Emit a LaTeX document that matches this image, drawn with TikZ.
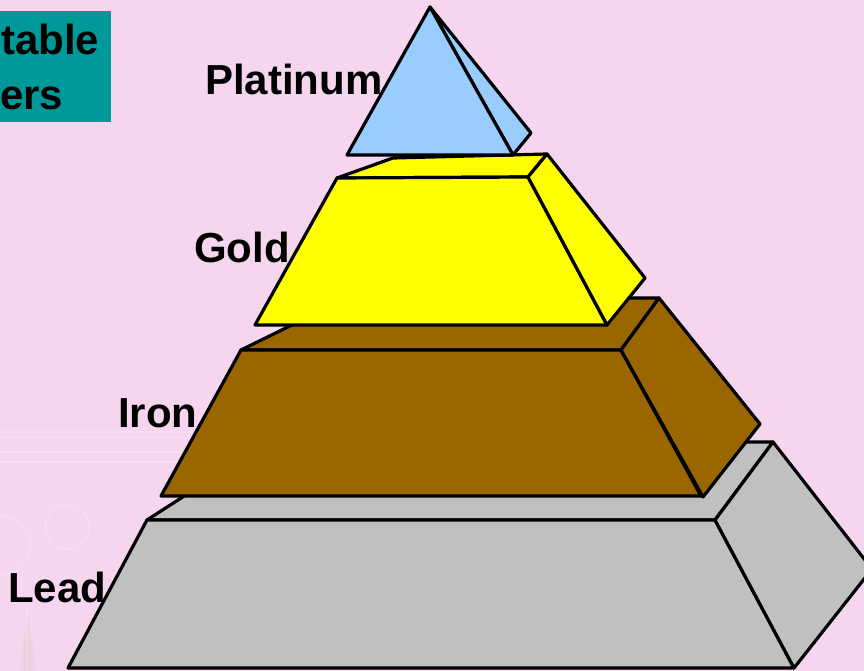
\documentclass[tikz,border=0pt]{standalone}
\usepackage{fontspec}
\setmainfont{Liberation Sans}
\usepackage{xcolor}
\usetikzlibrary{positioning}

\definecolor{bgpink}{HTML}{F6D5EE}
\definecolor{tealbox}{HTML}{009999}
\definecolor{platblue}{HTML}{99CCFF}
\definecolor{goldyel}{HTML}{FFFF00}
\definecolor{ironbrown}{HTML}{996600}
\definecolor{leadgrey}{HTML}{C0C0C0}

\begin{document}
\begin{tikzpicture}[
    x=1pt, y=-1pt,
    face/.style={draw=black, line width=3.2pt, line join=round},
    lbl/.style={font=\fontsize{42}{48}\selectfont\bfseries, inner sep=0pt, anchor=base west},
    deco/.style={draw=white, opacity=0.2, line width=1.6pt}
]

% Background
\fill[bgpink] (0,0) rectangle (864,671);
\useasboundingbox (0,0) rectangle (864,671);
\clip (0,0) rectangle (864,671);

% faint template marks
\draw[deco] (0,432) -- (200,432);
\draw[deco] (0,438) -- (200,438);
\draw[deco] (0,452) -- (200,452);
\draw[deco] (0,462) -- (200,462);
\draw[deco] (67,527) circle (22);
\draw[deco] (0,545) circle (30);
\draw[deco] (27,607) -- (27,671);
\fill[ironbrown!15!bgpink, opacity=0.3] (20,671) -- (24,640) -- (28,615) -- (32,640) -- (36,671) -- cycle;

% Title box
\fill[tealbox] (0,11) rectangle (111,122);
\node[lbl] (title1) at (1,55) {table};
\node[lbl] (title2) at (0,110) {ers};

% Lead
\filldraw[face, fill=leadgrey] (147,520) -- (268,442) -- (773,442) -- (715,520) -- cycle;
\filldraw[face, fill=leadgrey] (147,520) -- (715,520) -- (794,668) -- (68,668) -- cycle;
\filldraw[face, fill=leadgrey] (715,520) -- (773,442) -- (872,569) -- (794,668) -- cycle;

% Iron
\filldraw[face, fill=ironbrown] (241,350) -- (347,298) -- (659,298) -- (621,350) -- cycle;
\filldraw[face, fill=ironbrown] (241,350) -- (621,350) -- (701,496) -- (161,496) -- cycle;
\filldraw[face, fill=ironbrown] (621,350) -- (659,298) -- (760,424) -- (703,497) -- cycle;

% Gold
\filldraw[face, fill=goldyel] (337,178) -- (393,158) -- (547,154) -- (528,177) -- cycle;
\filldraw[face, fill=goldyel] (337,178) -- (528,177) -- (607,325) -- (255,325) -- cycle;
\filldraw[face, fill=goldyel] (528,177) -- (547,154) -- (645,278) -- (607,325) -- cycle;

% Platinum
\filldraw[face, fill=platblue] (430,7) -- (531,133) -- (513,155) -- cycle;
\filldraw[face, fill=platblue] (430,7) -- (513,155) -- (347,155) -- cycle;

% Labels
\node[lbl] (platinum) at (205,95) {Platinum};
\node[lbl] (gold) at (194,262) {Gold};
\node[lbl] (iron) at (118,427) {Iron};
\node[lbl] (lead) at (8,602) {Lead};

\end{tikzpicture}
\end{document}
